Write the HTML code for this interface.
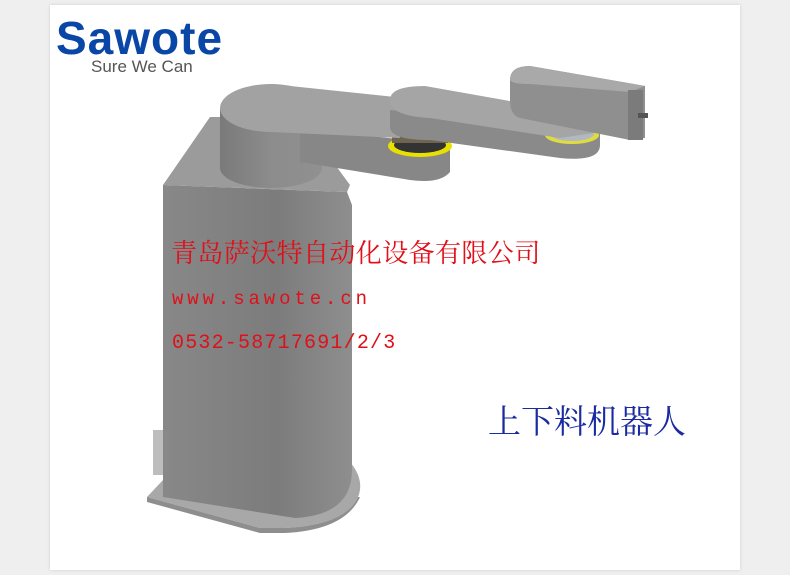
<!DOCTYPE html>
<html><head><meta charset="utf-8"><style>
html,body{margin:0;padding:0;background:#efefef;}
.wrap{position:relative;width:790px;height:575px;overflow:hidden;background:#efefef;}
.panel{position:absolute;left:50px;top:5px;width:690px;height:565px;background:#fff;box-shadow:0 0 3px #ccc;}
.t{position:absolute;white-space:nowrap;}
</style></head><body><div class="wrap">
<div class="panel"></div>
<svg style="position:absolute;left:0;top:0" width="790" height="575">
<defs>
<linearGradient id="col" x1="0" x2="1"><stop offset="0" stop-color="#888"/><stop offset="0.6" stop-color="#7c7c7c"/><stop offset="1" stop-color="#8e8e8e"/></linearGradient>
<linearGradient id="cyl" x1="0" x2="1"><stop offset="0" stop-color="#7a7a7a"/><stop offset="0.5" stop-color="#8c8c8c"/><stop offset="1" stop-color="#909090"/></linearGradient>
</defs>
<!-- base flange -->
<path d="M147,497 L163,480 L350,462 Q365,480 358,497 Q345,525 285,528 L260,528 Z" fill="#a8a8a8"/>
<path d="M147,497 L147,502 L260,533 L285,533 Q345,530 360,497 L358,497 Q345,525 285,528 L260,528 Z" fill="#8e8e8e"/>
<rect x="153" y="430" width="10" height="45" fill="#bdbdbd"/>
<!-- column -->
<path d="M163,185 L347,192 L352,205 L352,470 Q352,515 295,518 L163,497 Z" fill="url(#col)"/>
<!-- box top face -->
<polygon points="163,185 210,117 300,117 350,185 347,192" fill="#9b9b9b"/>
<!-- arm1 cylinder -->
<path d="M220,108 L220,168 A51,20 0 0 0 322,168 L322,108 Z" fill="url(#cyl)"/>
<!-- arm1 bar side -->
<path d="M300,128 L450,145 L450,172 Q440,184 410,180 L300,162 Z" fill="#878787"/>
<!-- joint2 ring -->
<ellipse cx="420" cy="146" rx="32" ry="11" fill="#e8e000"/>
<ellipse cx="420" cy="145" rx="26" ry="8" fill="#333"/>
<rect x="392" y="124" width="56" height="19" fill="#6e6450"/>
<!-- arm1 top -->
<ellipse cx="271" cy="108" rx="51" ry="24" fill="#a2a2a2"/>
<polygon points="271,84 395,97 400,138 271,132" fill="#a2a2a2"/>
<!-- arm2 side -->
<path d="M390,110 L390,128 Q392,140 430,140 L560,158 Q600,162 600,145 L600,130 Z" fill="#8a8a8a"/>
<!-- joint3 -->
<ellipse cx="572" cy="135" rx="27" ry="9" fill="#e0dc40"/>
<ellipse cx="572" cy="134" rx="22" ry="7" fill="#b0b8c0"/>
<!-- arm2 top -->
<path d="M390,100 Q390,86 425,86 L560,110 L600,132 L560,138 L430,118 Q390,116 390,100 Z" fill="#a5a5a5"/>
<!-- box -->
<path d="M510,80 Q510,66 530,66 L645,86 L645,138 L630,140 L520,118 Q510,115 510,100 Z" fill="#8f8f8f"/>
<path d="M510,80 Q510,66 530,66 L645,86 L630,92 L530,84 Q512,84 510,80 Z" fill="#a9a9a9"/>
<rect x="628" y="90" width="15" height="50" fill="#7b7b7b"/>
<rect x="638" y="113" width="10" height="5" fill="#555"/>
</svg>
<div class="t" style="left:56px;top:11px;font:bold 46px 'Liberation Sans',sans-serif;color:#0a46a6;letter-spacing:1px">Sawote</div>
<div class="t" style="left:91px;top:57px;font:17px 'Liberation Sans',sans-serif;color:#555">Sure We Can</div>
<div class="t" style="left:171px;top:233px;font:26px 'Liberation Serif','Noto Serif CJK SC',serif;color:#e0101a;letter-spacing:0.4px">青岛萨沃特自动化设备有限公司</div>
<div class="t" style="left:172px;top:288px;font:19px 'Liberation Mono',monospace;color:#e0101a;letter-spacing:3.9px">www.sawote.cn</div>
<div class="t" style="left:172px;top:332px;font:20px 'Liberation Mono',monospace;color:#e0101a;letter-spacing:1.2px">0532-58717691/2/3</div>
<div class="t" style="left:488px;top:396px;font:33px 'Liberation Serif','Noto Serif CJK SC',serif;color:#1a2aa0">上下料机器人</div>
</div></body></html>
